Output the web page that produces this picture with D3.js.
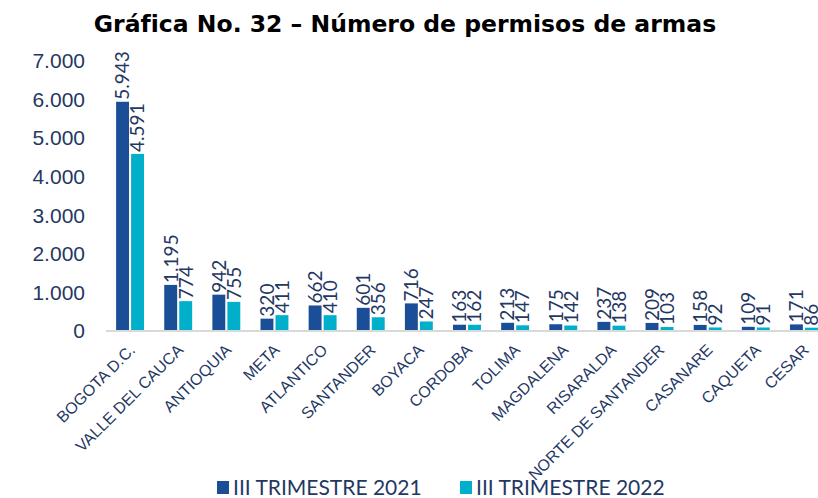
<!DOCTYPE html>
<html lang="es">
<head>
<meta charset="UTF-8">
<title>Gráfica No. 32</title>
<script src="https://d3js.org/d3.v7.min.js"></script>
<style>
  body { margin: 0; background: #fff; }
  svg { display: block; font-family: Lato, "Open Sans", sans-serif; }
</style>
</head>
<body>
<div id="chart"></div>
<script>
  const departamentos = ["BOGOTA D.C.", "VALLE DEL CAUCA", "ANTIOQUIA", "META", "ATLANTICO",
    "SANTANDER", "BOYACA", "CORDOBA", "TOLIMA", "MAGDALENA", "RISARALDA",
    "NORTE DE SANTANDER", "CASANARE", "CAQUETA", "CESAR"];
  const trim2021 = [5943, 1195, 942, 320, 662, 601, 716, 163, 213, 175, 237, 209, 158, 109, 171];
  const trim2022 = [4591, 774, 755, 411, 410, 356, 247, 162, 147, 142, 138, 103, 92, 91, 86];
  const seriesNames = ["III TRIMESTRE 2021", "III TRIMESTRE 2022"];
  const yTicks = [0, 1000, 2000, 3000, 4000, 5000, 6000, 7000];

  const width = 818, height = 498;
  const colors = ["#1A4E97", "#00AFCA"];
  const textColor = "#1F3864";
  const fmt = v => d3.format(",")(v).replace(/,/g, ".");

  const svg = d3.select("#chart").append("svg")
    .attr("width", width).attr("height", height);

  // title
  svg.append("text")
    .attr("x", 405).attr("y", 32)
    .attr("text-anchor", "middle")
    .style("font-family", "'DejaVu Sans', Verdana, sans-serif")
    .style("font-weight", "bold")
    .style("font-size", "23.5px")
    .attr("fill", "#000")
    .text("Gráfica No. 32 – Número de permisos de armas");

  const x = d3.scaleBand().domain(departamentos).range([106, 828]).paddingInner(0.42).paddingOuter(0.21);
  const xs = d3.scaleBand().domain([0, 1]).range([0, x.bandwidth()]).paddingInner(0.14);
  const y = d3.scaleLinear().domain([0, 7000]).range([331, 61]);

  // y axis labels
  const yAxis = svg.append("g").attr("transform", "translate(85,0)")
    .call(d3.axisLeft(y).tickValues(yTicks).tickFormat(fmt).tickSize(0).tickPadding(0));
  yAxis.select(".domain").remove();
  yAxis.selectAll("text").attr("fill", textColor).style("font-size", "21px");

  const series = [trim2021, trim2022];
  series.forEach((vals, s) => {
    const g = svg.append("g");
    g.selectAll("rect").data(vals).join("rect")
      .attr("x", (d, i) => x(departamentos[i]) + xs(s))
      .attr("y", d => y(d))
      .attr("width", xs.bandwidth())
      .attr("height", d => y(0) - y(d))
      .attr("fill", colors[s]);
    g.selectAll("text").data(vals).join("text")
      .attr("transform", (d, i) => `translate(${x(departamentos[i]) + xs(s) + xs.bandwidth() / 2},${y(d) - 2}) rotate(-90)`)
      .attr("dy", "0.36em")
      .attr("fill", textColor)
      .style("font-size", "19px")
      .text(d => fmt(d));
  });

  // x axis
  const xAxis = svg.append("g").attr("transform", "translate(0,331)")
    .call(d3.axisBottom(x).tickSize(0).tickPadding(0));
  xAxis.select(".domain").attr("stroke", "#D9D9D9").attr("stroke-width", 2).attr("d", "M106,0H818");
  xAxis.selectAll("text")
    .attr("text-anchor", "end")
    .attr("dy", 0)
    .attr("transform", "translate(6,20) rotate(-45)")
    .attr("fill", textColor)
    .style("font-size", "16px");

  // legend
  const legendX = [217, 460];
  const legend = svg.append("g");
  seriesNames.forEach((name, i) => {
    legend.append("rect").attr("x", legendX[i]).attr("y", 481).attr("width", 12).attr("height", 13).attr("fill", colors[i]);
    legend.append("text").attr("x", legendX[i] + 16).attr("y", 495)
      .attr("fill", textColor).style("font-size", "21px").text(name);
  });
</script>
</body>
</html>
